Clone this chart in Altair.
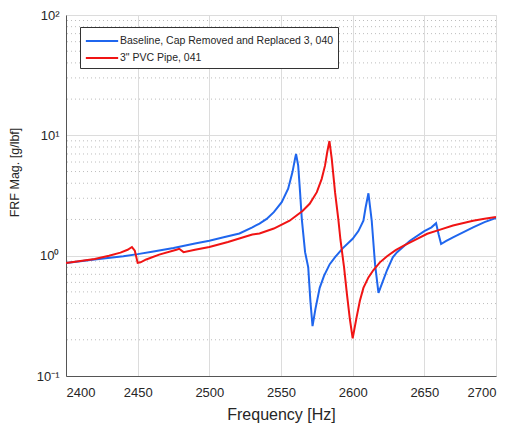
import altair as alt
import pandas as pd

# ---- data ----
blue_name = "Baseline, Cap Removed and Replaced 3, 040"
red_name = '3" PVC Pipe, 041'

blue_freq = [2400, 2420, 2440, 2450, 2460, 2475, 2490, 2500, 2510, 2521, 2530, 2535, 2540,
             2545, 2550.5, 2555, 2558, 2559.8, 2560.5, 2562, 2563.3, 2564.5, 2566.8, 2569,
             2570.5, 2572, 2574, 2577, 2580, 2584, 2588, 2593, 2600, 2604, 2607.5, 2609,
             2611, 2613.3, 2615.6, 2618, 2620.3, 2624, 2628, 2631, 2640, 2650, 2655, 2658.2,
             2660, 2661.7, 2665, 2670, 2684, 2692, 2700]
blue_mag = [0.87, 0.93, 0.99, 1.03, 1.08, 1.16, 1.26, 1.33, 1.42, 1.53, 1.72, 1.85, 2.02,
            2.3, 2.78, 3.6, 4.95, 6.4, 7.0, 5.6, 3.37, 2.02, 1.07, 0.8,
            0.42, 0.26, 0.36, 0.54, 0.68, 0.85, 0.98, 1.15, 1.38, 1.6, 1.95, 2.5,
            3.3, 1.95, 0.85, 0.49, 0.58, 0.76, 0.97, 1.07, 1.33, 1.6, 1.72, 1.86,
            1.5, 1.25, 1.32, 1.42, 1.72, 1.9, 2.06]

red_freq = [2400, 2420, 2430, 2438, 2443, 2446, 2448, 2450, 2452, 2456, 2465, 2477, 2479,
            2482, 2490, 2500, 2513, 2526, 2530, 2535, 2545, 2556, 2565, 2570, 2575, 2578.4,
            2580.7, 2582.3, 2583.8, 2585.4, 2587.7, 2590, 2591.5, 2594, 2596, 2598, 2600,
            2602.8, 2605, 2607.5, 2611, 2614.5, 2619, 2624, 2630, 2636, 2645, 2652, 2660,
            2670, 2684, 2692, 2700]
red_mag = [0.87, 0.94, 1.0, 1.06, 1.12, 1.18, 1.1, 0.87, 0.88, 0.93, 1.02, 1.12, 1.14,
           1.07, 1.12, 1.18, 1.3, 1.45, 1.50, 1.53, 1.68, 1.95, 2.35, 2.7, 3.37, 4.35,
           5.6, 7.3, 8.97, 6.4, 3.37, 2.0, 1.35, 0.8, 0.48, 0.3, 0.206,
           0.31, 0.42, 0.54, 0.66, 0.76, 0.88, 0.99, 1.11, 1.22, 1.38, 1.52, 1.63,
           1.78, 1.95, 2.03, 2.1]

x_ticks = [2400, 2450, 2500, 2550, 2600, 2650, 2700]
y_ticks = [0.1, 1, 10, 100]
y_minor = [0.2, 0.3, 0.4, 0.5, 0.6, 0.7, 0.8, 0.9,
           2, 3, 4, 5, 6, 7, 8, 9,
           20, 30, 40, 50, 60, 70, 80, 90]

df = pd.concat([
    pd.DataFrame({"f": blue_freq, "m": blue_mag, "s": blue_name, "o": 0}),
    pd.DataFrame({"f": red_freq, "m": red_mag, "s": red_name, "o": 1}),
])
minor_df = pd.DataFrame({"v": y_minor})

FONT = "Liberation Sans"
TXT = "#262626"
xscale = alt.Scale(domain=[2400, 2700], nice=False, zero=False)
yscale = alt.Scale(type="log", domain=[0.1, 100], nice=False)

y_axis = alt.Axis(values=y_ticks, grid=True, gridColor="#dcdcdc", ticks=False,
                  labelExpr="datum.value >= 100 ? '10²' : datum.value >= 10 ? '10¹' : datum.value >= 1 ? '10⁰' : '10⁻¹'",
                  labelPadding=7, labelFontSize=13, titleFontSize=12.5,
                  titleFontWeight="normal", titleX=-52, titleY=157,
                  titleAlign="center", titleBaseline="middle",
                  labelColor=TXT, titleColor=TXT,
                  domainColor="#555555", labelFont=FONT, titleFont=FONT)

minor = alt.Chart(minor_df).mark_rule(
    color="#bdbdbd", strokeDash=[1, 3], strokeWidth=1
).encode(y=alt.Y("v:Q", scale=yscale, title="FRF Mag. [g/lbf]", axis=y_axis))

lines = alt.Chart(df).mark_line(strokeWidth=2, clip=True).encode(
    x=alt.X("f:Q", scale=xscale, title="Frequency [Hz]",
            axis=alt.Axis(values=x_ticks, format="d", grid=True, gridColor="#dcdcdc",
                          ticks=False, labelPadding=10, labelFontSize=13,
                          titleFontSize=16, titleFontWeight="normal",
                          titleY=43, titleBaseline="alphabetic",
                          labelColor=TXT, titleColor=TXT,
                          domainColor="#555555", labelFont=FONT, titleFont=FONT)),
    y=alt.Y("m:Q", scale=yscale, title="FRF Mag. [g/lbf]", axis=y_axis),
    color=alt.Color("s:N",
                    scale=alt.Scale(domain=[blue_name, red_name],
                                    range=["#1f66ee", "#f01414"]),
                    legend=alt.Legend(title=None, orient="none", legendX=14, legendY=12,
                                      strokeColor="#333333", fillColor="white",
                                      padding=4, symbolType="M-1.9,0H1.9",
                                      symbolSize=289, symbolStrokeWidth=2.2,
                                      symbolOffset=8, labelOffset=8,
                                      labelFontSize=10.5, labelFont=FONT,
                                      labelColor=TXT, rowPadding=1,
                                      labelLimit=400, cornerRadius=0)),
    order="o:Q",
    detail="s:N",
)

chart = alt.layer(minor, lines).properties(
    width=430, height=361,
    autosize=alt.AutoSizeParams(type="none"),
    padding={"left": 66, "top": 15, "right": 16, "bottom": 52},
).configure_view(stroke="#555555", strokeWidth=1).configure(background="white")

chart.save("out.html", embed_options={"renderer": "svg", "actions": False})
